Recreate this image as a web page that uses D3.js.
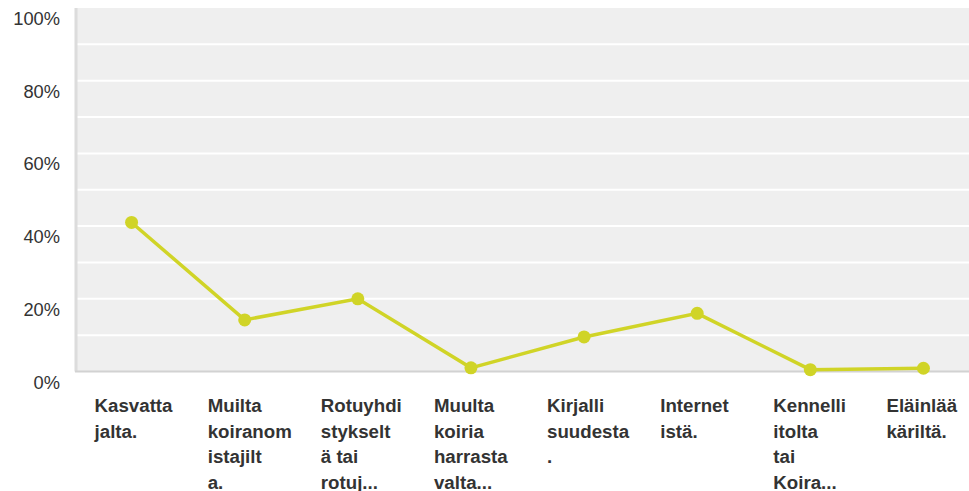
<!DOCTYPE html>
<html>
<head>
<meta charset="utf-8">
<script src="https://cdn.jsdelivr.net/npm/d3@7"></script>
<style>
  body { margin: 0; background: #fff; }
  svg text { font-family: "Liberation Sans", Arial, sans-serif; }
</style>
</head>
<body>
<div id="chart"></div>
<script>
var categories = [
    ["Kasvatta", "jalta."],
    ["Muilta", "koiranom", "istajilt", "a."],
    ["Rotuyhdi", "stykselt", "ä tai", "rotuj..."],
    ["Muulta", "koiria", "harrasta", "valta..."],
    ["Kirjalli", "suudesta", "."],
    ["Internet", "istä."],
    ["Kennelli", "itolta", "tai", "Koira..."],
    ["Eläinlää", "käriltä."]
];
var values = [41, 14.2, 20, 1, 9.5, 16, 0.5, 0.9];
var yTicks = [0, 20, 40, 60, 80, 100];
var gridTicks = [10, 20, 30, 40, 50, 60, 70, 80, 90];

var width = 969, height = 491;
var plotLeft = 75;

var svg = d3.select("#chart").append("svg")
    .attr("width", width)
    .attr("height", height);

var x = d3.scaleBand()
    .domain(d3.range(categories.length))
    .range([plotLeft, 980]);

var y = d3.scaleLinear()
    .domain([0, 100])
    .range([371.5, 8]);

// plot background
svg.append("rect")
    .attr("x", plotLeft)
    .attr("y", y(100))
    .attr("width", width - plotLeft)
    .attr("height", y(0) - y(100))
    .attr("fill", "#efefef");

// gridlines
svg.selectAll(".grid")
    .data(gridTicks)
    .enter().append("line")
    .attr("class", "grid")
    .attr("x1", plotLeft)
    .attr("x2", width)
    .attr("y1", function(d) { return y(d); })
    .attr("y2", function(d) { return y(d); })
    .attr("stroke", "#fff")
    .attr("stroke-width", 2);

// left and bottom borders
svg.append("line")
    .attr("x1", plotLeft + 1).attr("x2", plotLeft + 1)
    .attr("y1", y(100)).attr("y2", y(0))
    .attr("stroke", "#dcdcdc").attr("stroke-width", 3);
svg.append("line")
    .attr("x1", plotLeft).attr("x2", width)
    .attr("y1", y(0)).attr("y2", y(0))
    .attr("stroke", "#d2d2d2").attr("stroke-width", 2);

// y labels
svg.selectAll(".ylab")
    .data(yTicks)
    .enter().append("text")
    .attr("class", "ylab")
    .attr("x", 60)
    .attr("y", function(d) { return y(d) + 17; })
    .attr("text-anchor", "end")
    .attr("font-size", 18.3)
    .attr("fill", "#333")
    .text(function(d) { return d + "%"; });

// line
var cx = function(d, i) { return x(i) + x.bandwidth() / 2; };
var line = d3.line()
    .x(function(d, i) { return cx(d, i); })
    .y(function(d) { return y(d); });

svg.append("path")
    .datum(values)
    .attr("d", line)
    .attr("fill", "none")
    .attr("stroke", "#d0d427")
    .attr("stroke-width", 3.5);

svg.selectAll(".dot")
    .data(values)
    .enter().append("circle")
    .attr("class", "dot")
    .attr("cx", cx)
    .attr("cy", function(d) { return y(d); })
    .attr("r", 6.5)
    .attr("fill", "#d0d427");

// category labels
var labels = svg.selectAll(".xlab")
    .data(categories)
    .enter().append("text")
    .attr("class", "xlab")
    .attr("x", function(d, i) { return cx(d, i) - 37; })
    .attr("y", 412)
    .attr("font-size", 18.7)
    .attr("font-weight", "bold")
    .attr("fill", "#333");

labels.selectAll("tspan")
    .data(function(d) { return d; })
    .enter().append("tspan")
    .attr("x", function() { return d3.select(this.parentNode).attr("x"); })
    .attr("dy", function(d, i) { return i === 0 ? 0 : 25.5; })
    .text(function(d) { return d; });
</script>
</body>
</html>
